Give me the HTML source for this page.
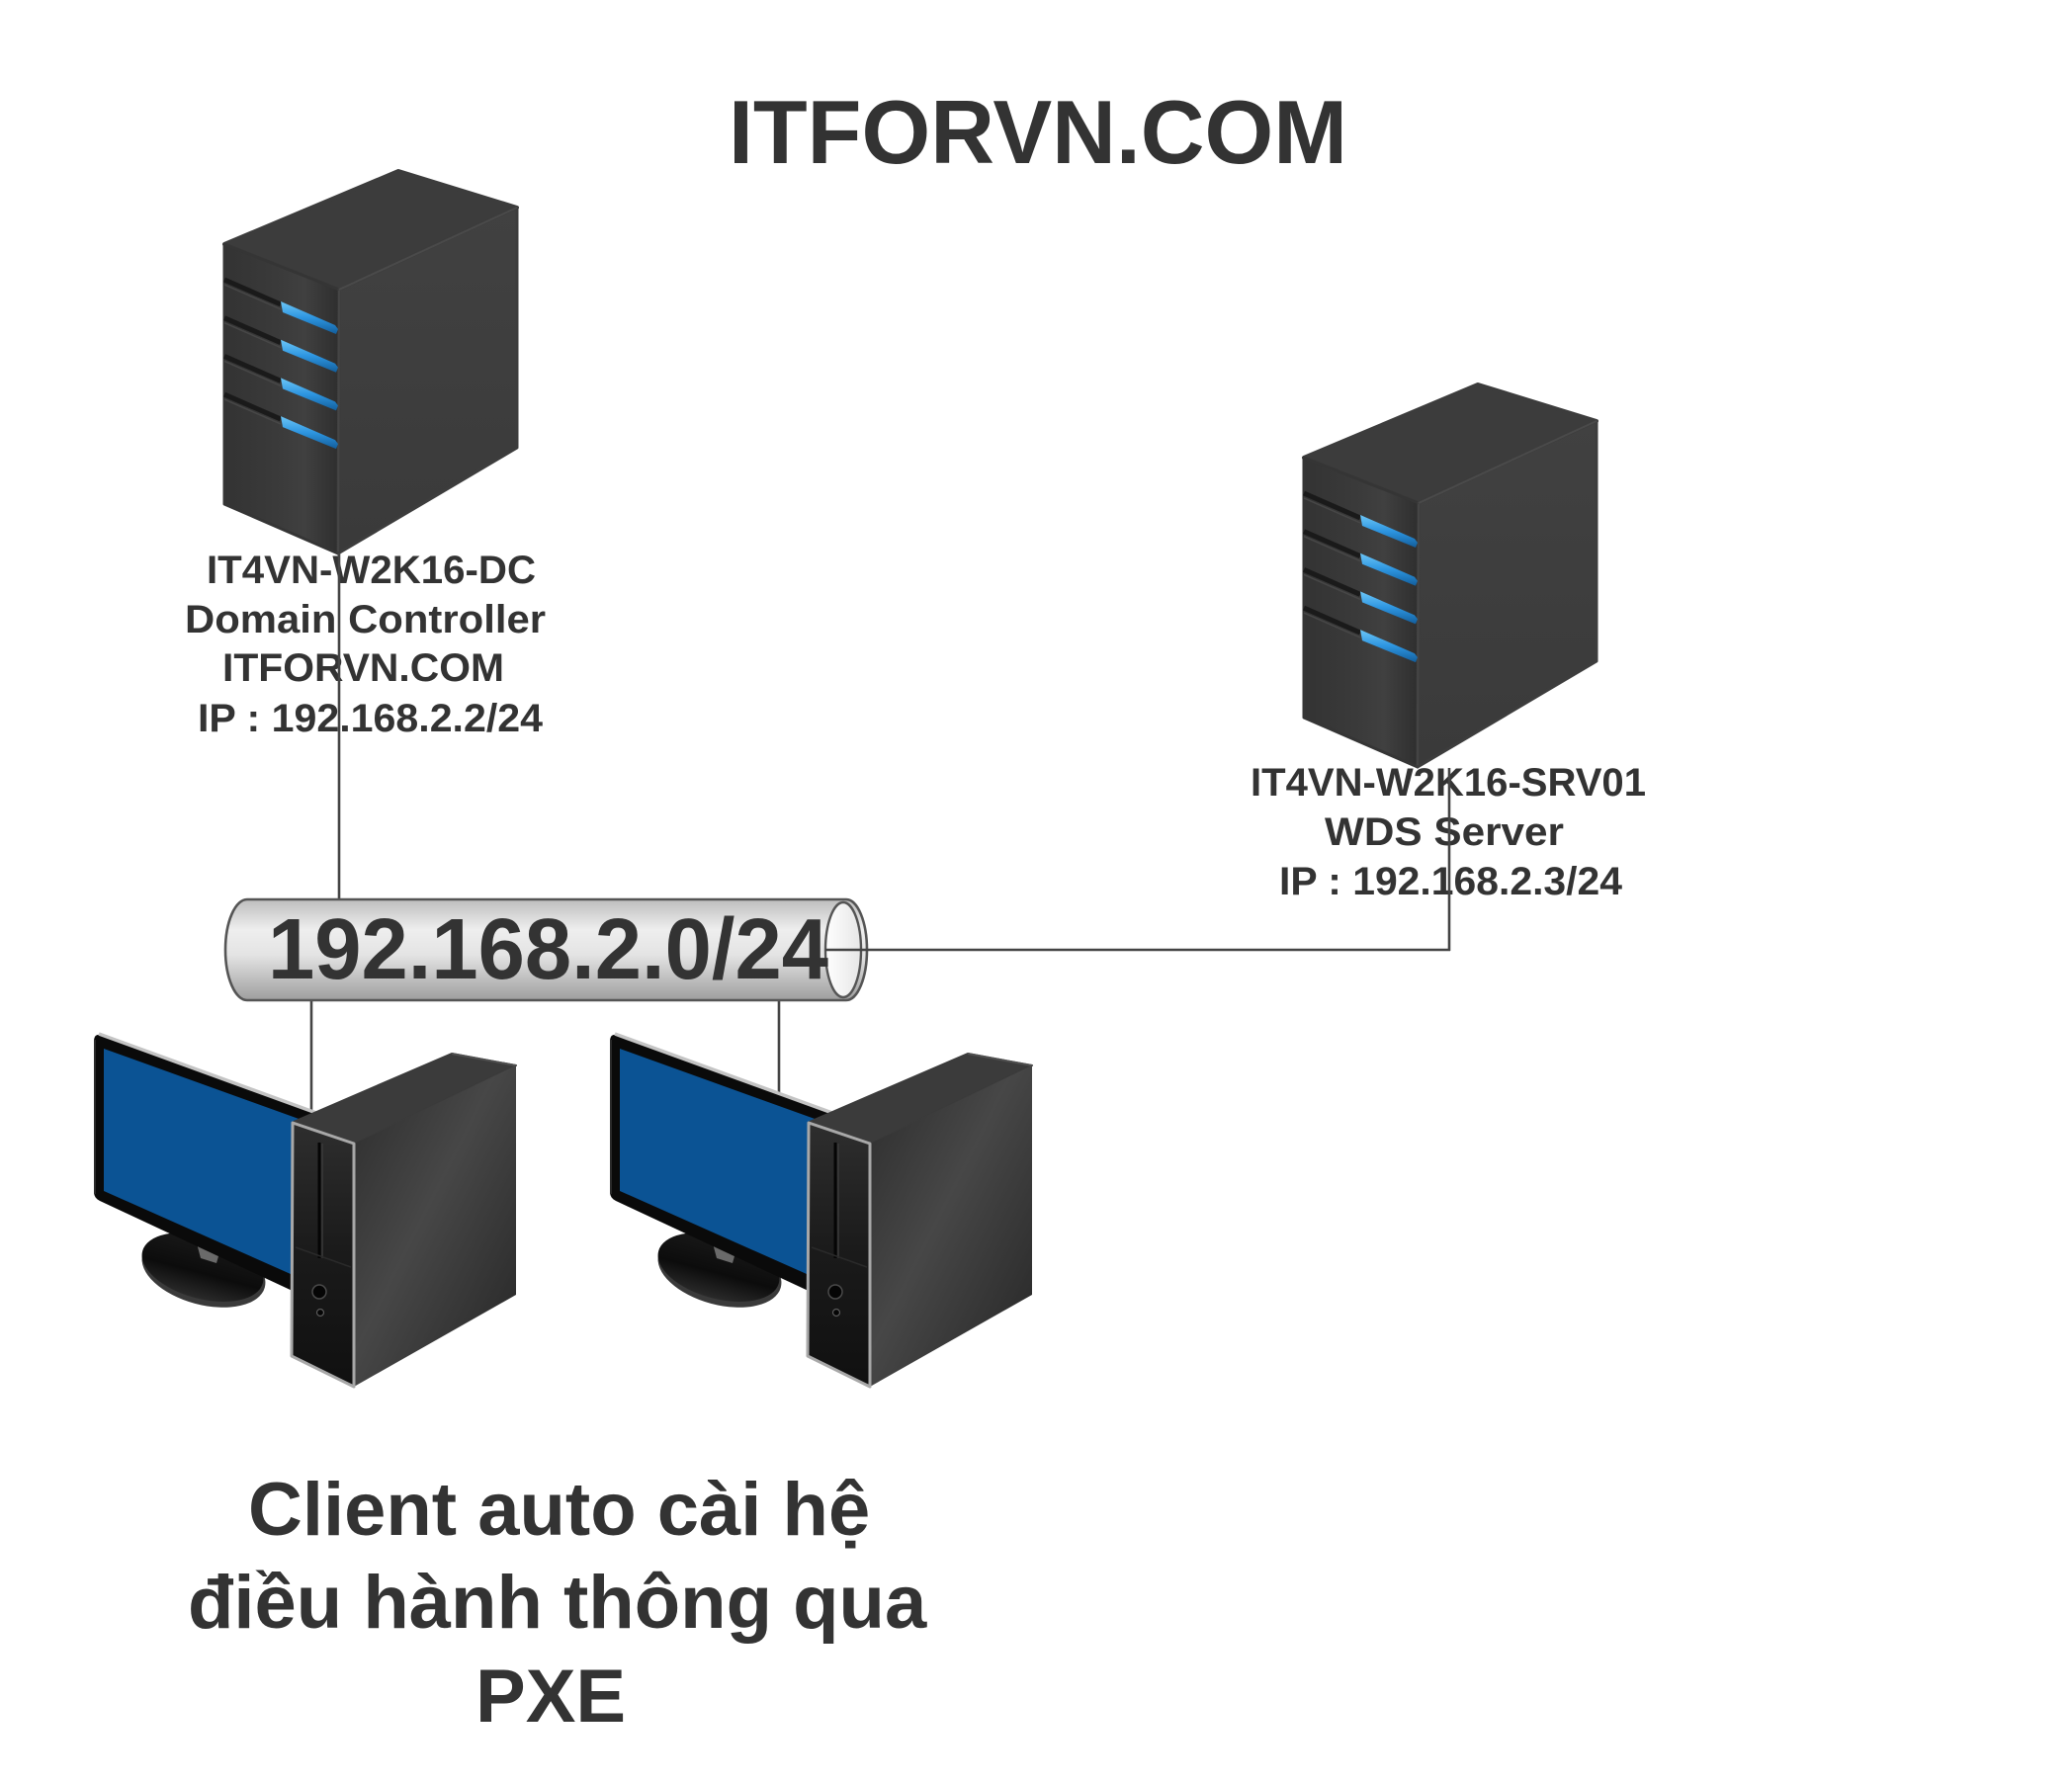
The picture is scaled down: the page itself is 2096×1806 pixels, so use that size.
<!DOCTYPE html>
<html>
<head>
<meta charset="utf-8">
<style>
  html, body { margin: 0; padding: 0; background: #ffffff; }
  svg { display: block; }
  text { font-family: "Liberation Sans", Arial, sans-serif; font-weight: bold; fill: #333333; }
</style>
</head>
<body>
<svg width="2096" height="1806" viewBox="0 0 2096 1806" xmlns="http://www.w3.org/2000/svg">
  <defs>
    <linearGradient id="cyl" x1="0" y1="0" x2="0" y2="1">
      <stop offset="0" stop-color="#bdbdbd"/>
      <stop offset="0.3" stop-color="#eeeeee"/>
      <stop offset="0.55" stop-color="#e4e4e4"/>
      <stop offset="1" stop-color="#9e9e9e"/>
    </linearGradient>
    <linearGradient id="cylend" x1="0" y1="0" x2="1" y2="0">
      <stop offset="0" stop-color="#ffffff"/>
      <stop offset="1" stop-color="#e6e6e6"/>
    </linearGradient>
    <linearGradient id="srvLeft" x1="0" y1="0" x2="1" y2="0">
      <stop offset="0" stop-color="#333333"/>
      <stop offset="0.45" stop-color="#3a3a3a"/>
      <stop offset="0.7" stop-color="#404040"/>
      <stop offset="1" stop-color="#2e2e2e"/>
    </linearGradient>
    <linearGradient id="srvRight" x1="0" y1="0" x2="0" y2="1">
      <stop offset="0" stop-color="#414141"/>
      <stop offset="1" stop-color="#3a3a3a"/>
    </linearGradient>
    <linearGradient id="blue" x1="0" y1="0" x2="0" y2="1">
      <stop offset="0" stop-color="#6cc6f7"/>
      <stop offset="0.5" stop-color="#2d95e0"/>
      <stop offset="1" stop-color="#135e9c"/>
    </linearGradient>
    <linearGradient id="towerRight" x1="0" y1="0" x2="1" y2="1">
      <stop offset="0" stop-color="#2c2c2c"/>
      <stop offset="0.45" stop-color="#474747"/>
      <stop offset="1" stop-color="#252525"/>
    </linearGradient>
    <linearGradient id="towerFront" x1="0" y1="0" x2="0" y2="1">
      <stop offset="0" stop-color="#2e2e2e"/>
      <stop offset="0.5" stop-color="#1a1a1a"/>
      <stop offset="1" stop-color="#101010"/>
    </linearGradient>
    <linearGradient id="standG" x1="0" y1="0" x2="0" y2="1">
      <stop offset="0" stop-color="#1a1a1a"/>
      <stop offset="0.6" stop-color="#0c0c0c"/>
      <stop offset="1" stop-color="#2a2a2a"/>
    </linearGradient>

    <g id="server">
      <polygon points="403,173 523,210 343,293 227,247" fill="#3c3c3c" stroke="#3c3c3c" stroke-width="4" stroke-linejoin="round"/>
      <polygon points="227,247 343,293 342,560 227,510" fill="url(#srvLeft)" stroke="#353535" stroke-width="3" stroke-linejoin="round"/>
      <polygon points="343,293 523,210 523,453 342,560" fill="url(#srvRight)" stroke="#3d3d3d" stroke-width="3" stroke-linejoin="round"/>
      <line x1="343" y1="293" x2="523" y2="210" stroke="#4a4a4a" stroke-width="2"/>
      <line x1="343" y1="294" x2="342" y2="558" stroke="#454545" stroke-width="2"/>
      <g>
        <line x1="227" y1="283" x2="284" y2="308" stroke="#1a1a1a" stroke-width="5"/>
        <line x1="227" y1="288" x2="284" y2="313" stroke="#474747" stroke-width="1.5"/>
        <polygon points="284,305 339,329 342,333 340,338 286,316" fill="url(#blue)"/>
      </g>
      <g transform="translate(0,38.7)">
        <line x1="227" y1="283" x2="284" y2="308" stroke="#1a1a1a" stroke-width="5"/>
        <line x1="227" y1="288" x2="284" y2="313" stroke="#474747" stroke-width="1.5"/>
        <polygon points="284,305 339,329 342,333 340,338 286,316" fill="url(#blue)"/>
      </g>
      <g transform="translate(0,77.4)">
        <line x1="227" y1="283" x2="284" y2="308" stroke="#1a1a1a" stroke-width="5"/>
        <line x1="227" y1="288" x2="284" y2="313" stroke="#474747" stroke-width="1.5"/>
        <polygon points="284,305 339,329 342,333 340,338 286,316" fill="url(#blue)"/>
      </g>
      <g transform="translate(0,116.1)">
        <line x1="227" y1="283" x2="284" y2="308" stroke="#1a1a1a" stroke-width="5"/>
        <line x1="227" y1="288" x2="284" y2="313" stroke="#474747" stroke-width="1.5"/>
        <polygon points="284,305 339,329 342,333 340,338 286,316" fill="url(#blue)"/>
      </g>
    </g>

    <g id="client">
      <ellipse cx="206" cy="1286" rx="64" ry="34" transform="rotate(15 206 1286)" fill="#3a3a3a"/>
      <ellipse cx="205" cy="1282" rx="63" ry="32" transform="rotate(15 205 1282)" fill="url(#standG)"/>
      <polygon points="199,1258 223,1264 219,1278 203,1273" fill="#6a6a6a"/>
      <path d="M101,1047 L330,1130 L330,1322 L101,1215 Q95,1212 95,1206 L95,1054 Q95,1046 101,1047 Z" fill="#0a0a0a"/>
      <path d="M100,1046 L320,1126" stroke="#c4c4c4" stroke-width="3.5" fill="none"/>
      <path d="M96,1052 L96,1208" stroke="#2a2a2a" stroke-width="2" fill="none"/>
      <path d="M105,1061 L330,1142 L330,1305 L105,1205 Z" fill="#0b5394"/>
      <polygon points="297,1135 457,1066 522,1078 358,1157" fill="#3b3b3b" stroke="#3b3b3b" stroke-width="2" stroke-linejoin="round"/>
      <line x1="457" y1="1066" x2="522" y2="1078" stroke="#505050" stroke-width="2"/>
      <polygon points="358,1157 522,1078 522,1310 358,1403" fill="url(#towerRight)"/>
      <polygon points="296,1136 358,1157 358,1403 295,1372" fill="url(#towerFront)" stroke="#a8a8a8" stroke-width="3" stroke-linejoin="round"/>
      <line x1="323" y1="1156" x2="323" y2="1273" stroke="#050505" stroke-width="3"/>
      <line x1="326" y1="1157" x2="326" y2="1273" stroke="#3a3a3a" stroke-width="1.5"/>
      <line x1="299" y1="1262" x2="355" y2="1282" stroke="#2a2a2a" stroke-width="1.5"/>
      <circle cx="323" cy="1307" r="7" fill="#050505" stroke="#4a4a4a" stroke-width="1.5"/>
      <circle cx="324" cy="1328" r="3.5" fill="#050505" stroke="#5a5a5a" stroke-width="1.2"/>
    </g>
  </defs>

  <rect x="0" y="0" width="2096" height="1806" fill="#ffffff"/>

  <text x="737" y="165" font-size="91" textLength="626" lengthAdjust="spacingAndGlyphs">ITFORVN.COM</text>

  <use href="#server"/>
  <use href="#server" transform="translate(1092,216)"/>

  <text x="209" y="590" font-size="40" textLength="333" lengthAdjust="spacingAndGlyphs">IT4VN-W2K16-DC</text>
  <text x="187" y="640" font-size="40" textLength="365" lengthAdjust="spacingAndGlyphs">Domain Controller</text>
  <text x="225" y="689" font-size="40" textLength="285" lengthAdjust="spacingAndGlyphs">ITFORVN.COM</text>
  <text x="200" y="740" font-size="40" textLength="349" lengthAdjust="spacingAndGlyphs">IP : 192.168.2.2/24</text>

  <text x="1265" y="805" font-size="40" textLength="400" lengthAdjust="spacingAndGlyphs">IT4VN-W2K16-SRV01</text>
  <text x="1340" y="855" font-size="40" textLength="242" lengthAdjust="spacingAndGlyphs">WDS Server</text>
  <text x="1294" y="905" font-size="40" textLength="347" lengthAdjust="spacingAndGlyphs">IP : 192.168.2.3/24</text>

  <line x1="343" y1="560" x2="343" y2="911" stroke="#444" stroke-width="2.6"/>
  <line x1="1466" y1="777" x2="1466" y2="962" stroke="#444" stroke-width="2.6"/>
  <line x1="315" y1="1012" x2="315" y2="1125" stroke="#444" stroke-width="2.6"/>
  <line x1="788" y1="1012" x2="788" y2="1112" stroke="#444" stroke-width="2.6"/>

  <path d="M250,910 L856,910 A21,51 0 0 1 856,1012 L250,1012 A22,51 0 0 1 250,910 Z" fill="url(#cyl)" stroke="#555" stroke-width="2.6"/>
  <ellipse cx="853" cy="961" rx="18" ry="48" fill="url(#cylend)" stroke="#555" stroke-width="2.4"/>
  <line x1="835" y1="961" x2="1467" y2="961" stroke="#444" stroke-width="2.6"/>
  <text x="271" y="990" font-size="87" textLength="567" lengthAdjust="spacingAndGlyphs">192.168.2.0/24</text>

  <use href="#client"/>
  <use href="#client" transform="translate(522,0)"/>

  <text x="251" y="1553" font-size="76">Client auto cài hệ</text>
  <text x="190" y="1647" font-size="76">điều hành thông qua</text>
  <text x="481" y="1742" font-size="76">PXE</text>
</svg>
</body>
</html>
